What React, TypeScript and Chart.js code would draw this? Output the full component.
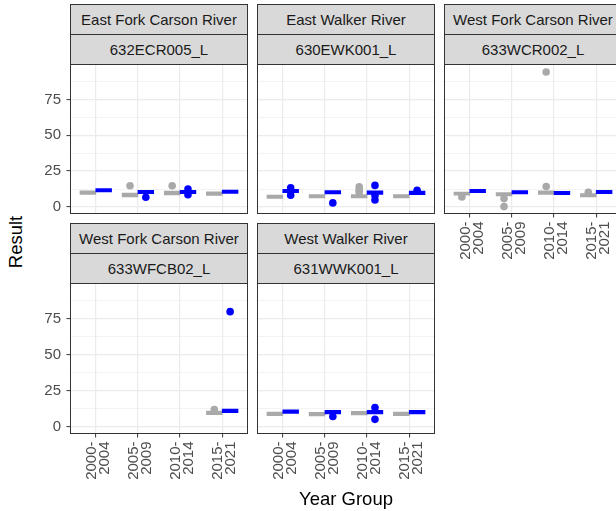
import React, { useEffect, useRef } from 'react';
import { Chart, registerables } from 'chart.js';

Chart.register(...registerables);
Chart.defaults.font.family = '"Liberation Sans", Arial, sans-serif';

// ---------------- data ----------------
const yearGroups = ['2000-2004', '2005-2009', '2010-2014', '2015-2021'];
const yMajorTicks = [0, 25, 50, 75];
const yMinorTicks = [12.5, 37.5, 62.5, 87.5];
const rivers = ['East Fork Carson River', 'East Walker River', 'West Fork Carson River', 'West Fork Carson River', 'West Walker River'];
const sites = ['632ECR005_L', '630EWK001_L', '633WCR002_L', '633WFCB02_L', '631WWK001_L'];

// boxes: [lower hinge, upper hinge] per year group; outliers per year group
const ecrGrayBox = [[8.8, 11.2], [7.0, 9.6], [8.4, 11.0], [8.0, 10.6]];
const ecrBlueBox = [[10.4, 12.8], [9.2, 11.6], [9.2, 11.6], [9.4, 11.8]];
const ecrGrayOut = [[], [14.8], [14.8], []];
const ecrBlueOut = [[], [6.7], [12.5, 8.5], []];

const ewkGrayBox = [[5.9, 8.2], [6.2, 8.6], [6.2, 8.6], [6.2, 8.6]];
const ewkBlueBox = [[9.9, 12.3], [9.0, 11.4], [8.8, 11.2], [8.6, 11.0]];
const ewkGrayOut = [[], [], [14.0, 12.0, 10.4], []];
const ewkBlueOut = [[13.4, 8.2], [2.8], [15.0, 8.0, 4.8], [11.6]];

const wcrGrayBox = [[8.2, 10.4], [7.6, 10.0], [8.8, 11.2], [6.9, 9.3]];
const wcrBlueBox = [[9.9, 12.3], [9.0, 11.4], [8.5, 10.9], [9.2, 11.6]];
const wcrGrayOut = [[7.0], [5.8, 0.2], [14.2, 94.2], [10.2]];
const wcrBlueOut = [[], [], [], []];

const wfcGrayBox = [null, null, null, [8.5, 10.9]];
const wfcBlueBox = [null, null, null, [9.9, 12.3]];
const wfcGrayOut = [[], [], [], [12.0]];
const wfcBlueOut = [[], [], [], [79.9]];

const wwkGrayBox = [[7.8, 10.2], [7.6, 10.0], [8.3, 10.7], [7.8, 10.2]];
const wwkBlueBox = [[9.4, 11.8], [9.0, 11.4], [9.0, 11.4], [9.0, 11.4]];
const wwkGrayOut = [[], [], [], []];
const wwkBlueOut = [[], [7.2], [13.4, 5.2], []];

// ---------------- layout / style ----------------
const GRAY = '#A9A9A9';
const BLUE = '#0000FF';
const DODGE = 0.1875;
const COL_LEFT = [70.5, 257.5, 444.5];
const ROW_TOP = [64.5, 283.5];
const PLOT_W = 177;
const PLOT_H = [149, 150];
const STRIP_H = 30;
const Y_MIN = -4.6;
const Y_MAX = 99.4;
const FONT = '"Liberation Sans", Arial, sans-serif';

type Box = number[] | null;
type PanelProps = {
  river: string; site: string;
  grayBox: Box[]; blueBox: Box[]; grayOut: number[][]; blueOut: number[][];
  col: number; row: number; showX: boolean; showY: boolean;
};

const borderPlugin = {
  id: 'panelBorder',
  afterDraw(chart: any) {
    const { ctx, chartArea: a } = chart;
    ctx.save();
    ctx.strokeStyle = '#333333';
    ctx.lineWidth = 1;
    ctx.strokeRect(a.left, a.top, a.right - a.left, a.bottom - a.top);
    ctx.restore();
  },
};

function Panel(p: PanelProps) {
  const ref = useRef<HTMLCanvasElement>(null);
  const canvasLeft = p.col === 0 ? 0 : Math.floor(COL_LEFT[p.col]);
  const yW = p.showY ? COL_LEFT[p.col] - canvasLeft : 0;
  const padL = COL_LEFT[p.col] - canvasLeft - yW;
  const canvasTop = Math.floor(ROW_TOP[p.row]);
  const padT = ROW_TOP[p.row] - canvasTop;
  const xH = p.showX ? 80 : 0;
  const padB = p.showX ? 0.5 : 1.5;
  const padR = 1.5;
  const W = Math.round(yW + padL + PLOT_W + padR);
  const H = Math.round(padT + PLOT_H[p.row] + xH + padB);

  useEffect(() => {
    const boxData: any[] = [];
    const boxColors: string[] = [];
    for (let i = 0; i < yearGroups.length; i++) {
      const g = p.grayBox[i];
      const b = p.blueBox[i];
      if (g) { boxData.push({ x: i - DODGE, y: g }); boxColors.push(GRAY); }
      if (b) { boxData.push({ x: i + DODGE, y: b }); boxColors.push(BLUE); }
    }
    const outs = (arr: number[][], off: number) =>
      arr.flatMap((vals, i) => vals.map((v) => ({ x: i + off, y: v })));

    const chart = new Chart(ref.current as HTMLCanvasElement, {
      type: 'scatter',
      data: {
        datasets: [
          {
            type: 'bar',
            data: boxData,
            backgroundColor: boxColors,
            borderWidth: 0,
            barThickness: 15.8,
            minBarLength: 3,
            order: 3,
          } as any,
          {
            type: 'scatter',
            data: outs(p.grayOut, -DODGE),
            pointRadius: 3.8,
            pointHoverRadius: 3.8,
            backgroundColor: GRAY,
            borderWidth: 0,
            order: 2,
          },
          {
            type: 'scatter',
            data: outs(p.blueOut, DODGE),
            pointRadius: 3.8,
            pointHoverRadius: 3.8,
            backgroundColor: BLUE,
            borderWidth: 0,
            order: 1,
          },
        ],
      },
      options: {
        responsive: false,
        maintainAspectRatio: false,
        animation: false,
        events: [],
        layout: { autoPadding: false, padding: { left: padL, right: padR, top: padT, bottom: padB } },
        plugins: { legend: { display: false }, tooltip: { enabled: false }, title: { display: false } },
        scales: {
          x: {
            type: 'linear',
            offset: false,
            min: -0.6,
            max: yearGroups.length - 0.4,
            border: { display: false },
            afterBuildTicks: (s: any) => { s.ticks = yearGroups.map((_, i) => ({ value: i })); },
            afterFit: (s: any) => { s.height = xH; s.paddingLeft = 0; s.paddingRight = 0; },
            grid: {
              offset: false,
              color: '#EBEBEB',
              lineWidth: 1.2,
              drawTicks: p.showX,
              tickLength: 4,
              tickColor: '#333333',
              tickWidth: 1,
            },
            ticks: {
              display: p.showX,
              autoSkip: false,
              minRotation: 90,
              maxRotation: 90,
              padding: 4,
              labelOffset: -4,
              color: '#4D4D4D',
              font: { size: 15, lineHeight: 0.85 },
              callback: (v: any) => {
                const g = yearGroups[Math.round(Number(v))] || '';
                const parts = g.split('-');
                return [parts[0] + '-', parts[1]];
              },
            },
          },
          y: {
            type: 'linear',
            offset: false,
            beginAtZero: false,
            min: Y_MIN,
            max: Y_MAX,
            border: { display: false },
            afterBuildTicks: (s: any) => {
              s.ticks = [...yMajorTicks, ...yMinorTicks].sort((a, b) => a - b).map((v) => ({ value: v }));
            },
            afterFit: (s: any) => { s.width = yW; s.paddingTop = 0; s.paddingBottom = 0; },
            grid: {
              color: '#EBEBEB',
              lineWidth: (c: any) => (c.tick && yMajorTicks.includes(c.tick.value) ? 1.2 : 0.6),
              drawTicks: p.showY,
              tickLength: 4,
              tickColor: (c: any) => (c.tick && yMajorTicks.includes(c.tick.value) ? '#333333' : 'rgba(0,0,0,0)'),
              tickWidth: 1,
            },
            ticks: {
              display: p.showY,
              autoSkip: false,
              padding: 5.5,
              color: '#4D4D4D',
              font: { size: 15 },
              callback: (v: any) => (yMajorTicks.includes(Number(v)) ? String(v) : ''),
            },
          },
        },
      },
      plugins: [borderPlugin],
    });
    return () => chart.destroy();
  }, []);

  const stripLeft = Math.floor(COL_LEFT[p.col]);
  const stripTop = Math.floor(ROW_TOP[p.row]) - 2 * STRIP_H;
  const stripStyle = (top: number): React.CSSProperties => ({
    position: 'absolute',
    left: stripLeft,
    top,
    width: PLOT_W + 1,
    height: STRIP_H + 1,
    boxSizing: 'border-box',
    border: '1px solid #333333',
    background: '#D9D9D9',
    color: '#1A1A1A',
    font: `15px ${FONT}`,
    display: 'flex',
    alignItems: 'center',
    justifyContent: 'center',
    whiteSpace: 'nowrap',
  });

  return (
    <>
      <div style={stripStyle(stripTop)}>{p.river}</div>
      <div style={stripStyle(stripTop + STRIP_H)}>{p.site}</div>
      <canvas
        ref={ref}
        width={W}
        height={H}
        style={{ position: 'absolute', left: canvasLeft, top: canvasTop, width: W, height: H }}
      />
    </>
  );
}

export default function App() {
  return (
    <div
      style={{
        position: 'fixed',
        left: 0,
        top: 0,
        width: 616,
        height: 511,
        overflow: 'hidden',
        background: '#FFFFFF',
        fontFamily: FONT,
      }}
    >
      <Panel river={rivers[0]} site={sites[0]} grayBox={ecrGrayBox} blueBox={ecrBlueBox} grayOut={ecrGrayOut} blueOut={ecrBlueOut} col={0} row={0} showX={false} showY={true} />
      <Panel river={rivers[1]} site={sites[1]} grayBox={ewkGrayBox} blueBox={ewkBlueBox} grayOut={ewkGrayOut} blueOut={ewkBlueOut} col={1} row={0} showX={false} showY={false} />
      <Panel river={rivers[2]} site={sites[2]} grayBox={wcrGrayBox} blueBox={wcrBlueBox} grayOut={wcrGrayOut} blueOut={wcrBlueOut} col={2} row={0} showX={true} showY={false} />
      <Panel river={rivers[3]} site={sites[3]} grayBox={wfcGrayBox} blueBox={wfcBlueBox} grayOut={wfcGrayOut} blueOut={wfcBlueOut} col={0} row={1} showX={true} showY={true} />
      <Panel river={rivers[4]} site={sites[4]} grayBox={wwkGrayBox} blueBox={wwkBlueBox} grayOut={wwkGrayOut} blueOut={wwkBlueOut} col={1} row={1} showX={true} showY={false} />
      <div
        style={{
          position: 'absolute',
          left: 16,
          top: 242,
          transform: 'translate(-50%, -50%) rotate(-90deg)',
          font: `18.5px ${FONT}`,
          color: '#000000',
          whiteSpace: 'nowrap',
        }}
      >
        Result
      </div>
      <div
        style={{
          position: 'absolute',
          left: 346,
          top: 499,
          transform: 'translate(-50%, -50%)',
          font: `18.5px ${FONT}`,
          color: '#000000',
          whiteSpace: 'nowrap',
        }}
      >
        Year Group
      </div>
    </div>
  );
}
